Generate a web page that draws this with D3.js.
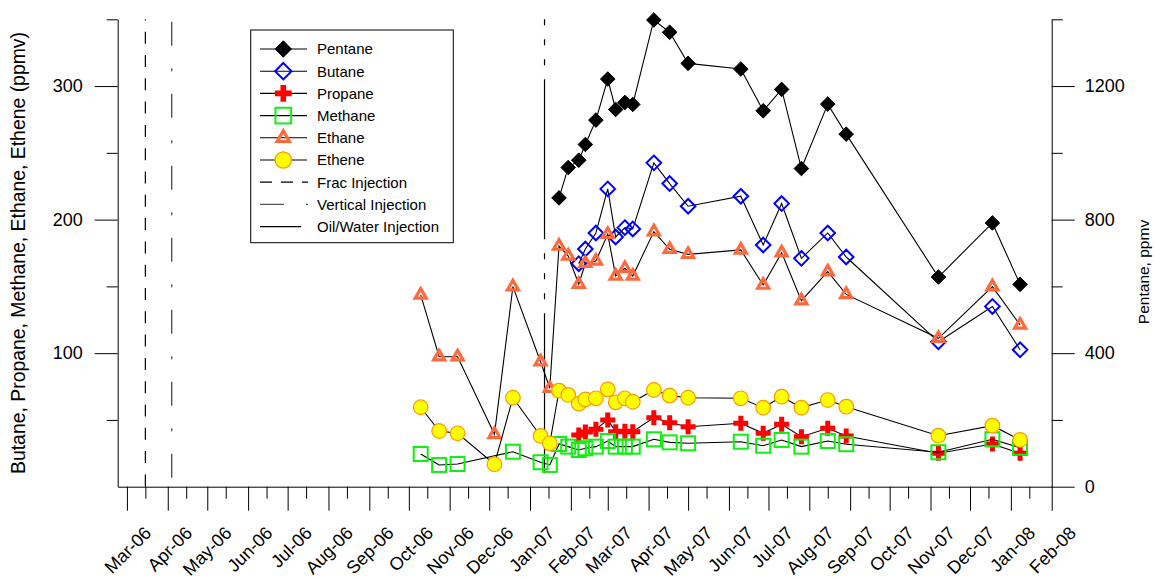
<!DOCTYPE html>
<html>
<head>
<meta charset="utf-8">
<script src="https://cdn.jsdelivr.net/npm/d3@7"></script>
<style>
  body { margin: 0; background: #fff; }
  text { font-family: "Liberation Sans", Arial, Helvetica, sans-serif; fill: #000; }
</style>
</head>
<body>
<svg width="1154" height="578"></svg>
<script>
// sampling dates shared by all series (null = not measured that day)
const sampleDates = [
  "2006-10-10", "2006-10-24", "2006-11-07", "2006-12-05", "2006-12-19",
  "2007-01-09", "2007-01-16", "2007-01-23", "2007-01-30", "2007-02-07",
  "2007-02-12", "2007-02-20", "2007-03-01", "2007-03-07", "2007-03-14",
  "2007-03-20", "2007-04-05", "2007-04-17", "2007-05-01", "2007-06-10",
  "2007-06-27", "2007-07-11", "2007-07-26", "2007-08-15", "2007-08-29",
  "2007-11-07", "2007-12-18", "2008-01-08"
];

// right axis
const pentane = [null, null, null, null, null, null, null,
  865, 956, 978, 1025, 1098, 1221, 1130, 1151, 1145, 1398, 1361, 1268,
  1251, 1126, 1190, 953, 1146, 1056, 628, 790, 606];

// left axis
const butane = [null, null, null, null, null, null, null, null, null,
  167, 178, 190, 223, 187, 194, 193, 242.5, 227, 210,
  217.5, 181, 212, 171, 190, 172, 108.5, 135, 102.5];
const propane = [null, null, null, null, null, null, null, null, null,
  38.7, 41, 43, 50, 41.2, 41.5, 41.2, 51.7, 47.9, 44.9,
  47.5, 40, 46.7, 37.4, 43.7, 38, 25, 32, 25];
const methane = [24.5, 16.3, 17, null, 26.2, 18.3, 16.3,
  32, 30, 27.5, 28.8, 30, 34.2, 30, 30, 30, 35.5, 33.2, 32.5,
  33.7, 30.7, 35, 30, 34.2, 31.8, 25.8, 35.5, 29.2];
const ethane = [143.6, 97.3, 97.3, 39.2, 149.8, 93.6, 73.7,
  180.2, 172.8, 151.6, 167.3, 169, 189, 157.8, 163.5, 157.8, 191, 177.8, 174,
  177.3, 151, 175.2, 139.3, 161, 144, 111.1, 149.8, 121.1];
const ethene = [59.5, 41.7, 40, 16.8, 66.6, 38, 32.5,
  71.9, 68.7, 62.2, 65.4, 66.2, 72.9, 63.2, 66.2, 63.6, 72.4, 68.2, 66.6,
  66.2, 59.2, 67.4, 59.2, 64.9, 59.9, 38.2, 45.7, 35];

const eventNames = ["Frac Injection", "Vertical Injection", "Oil/Water Injection"];
const eventDates = ["2006-03-15", "2006-04-04", "2007-01-12"];

const leftTicks = [100, 200, 300];
const leftMinor = [50, 150, 250, 350];
const rightTicks = [0, 400, 800, 1200];
const rightMinor = [200, 600, 1000, 1400];

const parse = d3.timeParse("%Y-%m-%d");
const svg = d3.select("svg");

const plotLeft = 117.7, plotRight = 1051.7, plotTop = 19.3, plotBottom = 486.7;

const x = d3.scaleTime()
  .domain([parse("2006-02-22"), parse("2008-02-01")])
  .range([plotLeft, plotRight]);
const yL = d3.scaleLinear().domain([0, 350]).range([plotBottom, plotTop]);
const yR = d3.scaleLinear().domain([0, 1400]).range([plotBottom, plotTop]);

// ---- axes ----
const months = d3.timeMonth.range(new Date(2006, 2, 1), new Date(2008, 1, 2));
const midMonths = d3.timeMonth.range(new Date(2006, 1, 1), new Date(2008, 1, 1))
  .map(d => new Date(d.getFullYear(), d.getMonth(), 15))
  .filter(d => d >= x.domain()[0] && d <= x.domain()[1]);

const xMinor = svg.append("g")
  .attr("transform", "translate(0," + plotBottom + ")")
  .call(d3.axisBottom(x).tickValues(midMonths).tickSize(12).tickFormat(""));
xMinor.select(".domain").remove();

const xAxis = svg.append("g")
  .attr("transform", "translate(0," + plotBottom + ")")
  .call(d3.axisBottom(x).tickValues(months).tickSize(24).tickSizeOuter(0)
    .tickFormat(d3.timeFormat("%b-%y")));
xAxis.selectAll("text")
  .attr("y", null).attr("dy", null).attr("x", null)
  .attr("text-anchor", "end")
  .attr("transform", "translate(25,47.5) rotate(-45)")
  .style("font-size", "18px");

const lMinor = svg.append("g")
  .attr("transform", "translate(" + plotLeft + ",0)")
  .call(d3.axisLeft(yL).tickValues(leftMinor).tickSize(11).tickFormat(""));
lMinor.select(".domain").remove();
const lAxis = svg.append("g")
  .attr("transform", "translate(" + plotLeft + ",0)")
  .call(d3.axisLeft(yL).tickValues(leftTicks).tickSize(23).tickSizeOuter(0).tickPadding(12));
lAxis.selectAll("text").style("font-size", "18px");

const rMinor = svg.append("g")
  .attr("transform", "translate(" + plotRight + ",0)")
  .call(d3.axisRight(yR).tickValues(rightMinor).tickSize(11).tickFormat(""));
rMinor.select(".domain").remove();
const rAxis = svg.append("g")
  .attr("transform", "translate(" + plotRight + ",0)")
  .call(d3.axisRight(yR).tickValues(rightTicks).tickSize(23).tickSizeOuter(0)
    .tickPadding(10).tickFormat(d3.format("d")));
rAxis.selectAll("text").style("font-size", "18px");

svg.selectAll(".tick line, .domain").attr("stroke", "#000").attr("stroke-width", 1);
svg.selectAll(".tick text").attr("fill", "#000");

svg.append("text")
  .attr("transform", "translate(25,253) rotate(-90)")
  .attr("text-anchor", "middle")
  .style("font-size", "19.4px")
  .text("Butane, Propane, Methane, Ethane, Ethene (ppmv)");

svg.append("text")
  .attr("transform", "translate(1149,272) rotate(-90)")
  .attr("text-anchor", "middle")
  .style("font-size", "15.5px")
  .text("Pentane, ppmv");

// ---- event lines ----
const eventStyle = [
  { stroke: "#000", width: 1.2, dash: "12,11.3", offset: 10.9 },
  { stroke: "#555", width: 1.4, dash: "24,22.5,3,22.5", offset: 69.6 },
  { stroke: "#000", width: 1.2, dash: "6,14,6,14,6,14,160,14", offset: 0 }
];
eventDates.forEach((d, i) => {
  svg.append("line")
    .attr("x1", x(parse(d))).attr("x2", x(parse(d)))
    .attr("y1", plotTop).attr("y2", plotBottom)
    .attr("stroke", eventStyle[i].stroke)
    .attr("stroke-width", eventStyle[i].width)
    .attr("stroke-dasharray", eventStyle[i].dash)
    .attr("stroke-dashoffset", eventStyle[i].offset);
});

// ---- markers ----
function drawMarker(g, kind, k) {
  k = k || 1;
  if (kind === "fdiamond" || kind === "odiamond") {
    const s = 7.3 * k;
    g.append("path").attr("d", `M0,${-s}L${s},0L0,${s}L${-s},0Z`)
      .attr("fill", kind === "fdiamond" ? "#000" : "none")
      .attr("stroke", kind === "fdiamond" ? "#000" : "#0000ff")
      .attr("stroke-width", kind === "fdiamond" ? 1 : 2);
  } else if (kind === "cross") {
    g.append("path").attr("d", d3.symbol(d3.symbolCross, 125 * k * k)())
      .attr("fill", "#ff0000");
  } else if (kind === "square") {
    const s = 7 * k;
    g.append("rect").attr("x", -s).attr("y", -s).attr("width", 2 * s).attr("height", 2 * s)
      .attr("fill", "none").attr("stroke", "#11ee11").attr("stroke-width", 2);
  } else if (kind === "triangle") {
    const s = 11 * k, h = s * 0.866;
    g.append("path").attr("d", `M0,${-h * 2 / 3}L${s / 2},${h / 3}L${-s / 2},${h / 3}Z`)
      .attr("fill", "none").attr("stroke", "#ff6a3d").attr("stroke-width", 3.2);
  } else if (kind === "circle") {
    g.append("circle").attr("r", 7.3 * k)
      .attr("fill", "#ffff00").attr("stroke", "#ff9900").attr("stroke-width", 1.2);
  }
}

const series = [
  { name: "Pentane", values: pentane, y: yR, kind: "fdiamond" },
  { name: "Butane", values: butane, y: yL, kind: "odiamond" },
  { name: "Propane", values: propane, y: yL, kind: "cross" },
  { name: "Methane", values: methane, y: yL, kind: "square" },
  { name: "Ethane", values: ethane, y: yL, kind: "triangle" },
  { name: "Ethene", values: ethene, y: yL, kind: "circle" }
];

series.forEach(s => {
  const pts = sampleDates.map((d, i) => ({ date: parse(d), v: s.values[i] }))
    .filter(p => p.v != null);
  const line = d3.line().x(p => x(p.date)).y(p => s.y(p.v));
  svg.append("path").datum(pts)
    .attr("d", line)
    .attr("fill", "none").attr("stroke", "#000").attr("stroke-width", 1.1);
  svg.append("g").selectAll("g").data(pts).join("g")
    .attr("transform", p => `translate(${x(p.date)},${s.y(p.v)})`)
    .each(function () { drawMarker(d3.select(this), s.kind); });
});

// ---- legend ----
const legend = svg.append("g");
legend.append("rect")
  .attr("x", 250.7).attr("y", 30).attr("width", 202.6).attr("height", 212.7)
  .attr("fill", "#fff").attr("stroke", "#000").attr("stroke-width", 1);

const legendItems = series.map(s => ({ name: s.name, kind: s.kind }))
  .concat(eventNames.map((n, i) => ({ name: n, event: i })));

legendItems.forEach((it, i) => {
  const ly = 49 + i * 22.2;
  const g = legend.append("g");
  if (it.event === undefined) {
    g.append("line").attr("x1", 260).attr("x2", 307).attr("y1", ly).attr("y2", ly)
      .attr("stroke", "#000").attr("stroke-width", 1.1);
    const m = g.append("g").attr("transform", `translate(283.3,${ly})`);
    drawMarker(m, it.kind, 1.12);
  } else {
    const st = eventStyle[it.event];
    const dash = ["12,9", "24,22", null][it.event];
    g.append("line").attr("x1", 260).attr("x2", it.event === 2 ? 301 : 308)
      .attr("y1", ly).attr("y2", ly)
      .attr("stroke", st.stroke).attr("stroke-width", st.width)
      .attr("stroke-dasharray", dash);
  }
  g.append("text").attr("x", 317).attr("y", ly).attr("dy", "0.36em")
    .style("font-size", "15px").text(it.name);
});
</script>
</body>
</html>
